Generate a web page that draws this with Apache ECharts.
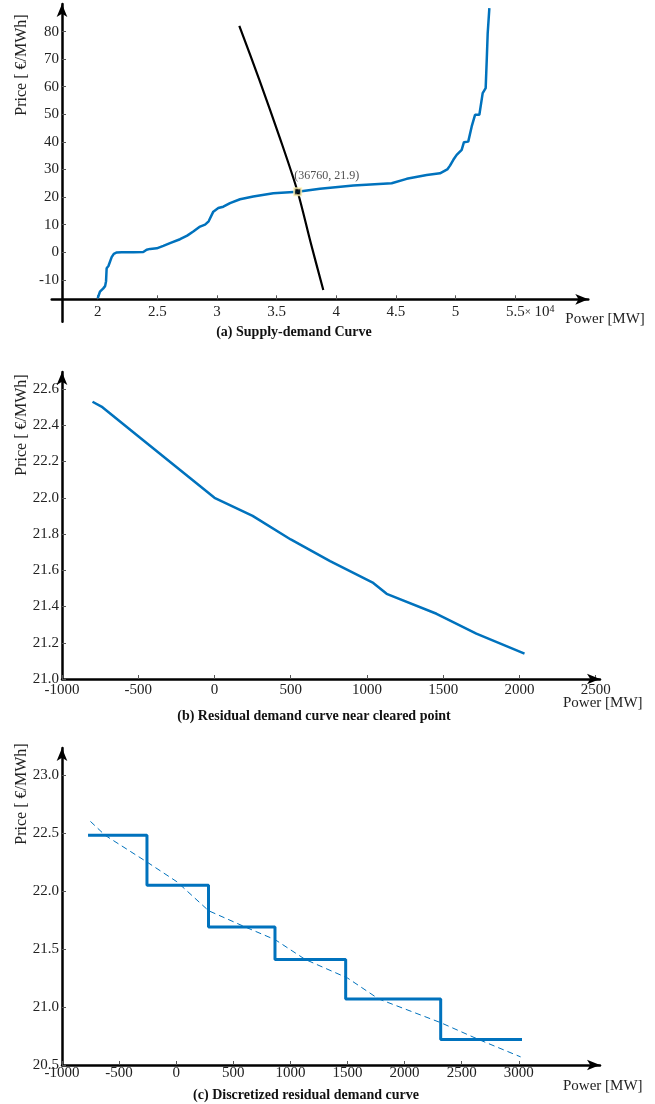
<!DOCTYPE html>
<html><head><meta charset="utf-8">
<script src="https://cdn.jsdelivr.net/npm/echarts@6/dist/echarts.min.js"></script>
<style>html,body{margin:0;padding:0;background:#fff}#c{width:655px;height:1104px}</style>
</head><body><div id="c"></div>
<script>
// ---------- data ----------
// (a) supply curve
const supplyMW = [20000,20190,20450,20620,20700,20750,20900,21050,21170,21350,21600,22000,23000,23820,24100,24400,24950,25500,26060,26900,27500,28010,28580,29000,29300,29690,30110,30530,31090,31930,33040,34720,36760,38630,41430,44640,45900,47580,48690,49300,49530,49810,50090,50510,50700,51060,51350,51630,51990,52270,52520,52610,52690,52830];
const supplyPrice = [-16.7,-14.3,-13.2,-12.3,-10.5,-5.8,-5.0,-4.6,-1.8,-0.6,-0.1,0,0,0.1,0.9,1.2,1.4,2.3,3.3,4.7,6.0,7.5,9.3,10.0,11.2,14.7,16.0,16.5,17.8,19.2,20.2,21.4,21.9,23.0,24.2,25.0,26.6,28.0,28.6,30.0,31.4,33.5,35.3,37.1,39.9,40.1,45.6,49.8,49.8,57.7,59.5,69.7,79.4,88.5];
// (a) demand curve
const demandMW = [31870,33550,35280,36760,37850,38910];
const demandPrice = [82.1,62.5,41.3,21.9,3.5,-13.7];
const clearedPoint = [36760, 21.9];
// (b) residual demand near cleared point
const resMW = [-800,-735,-500,-250,0,250,500,758,1041,1129,1456,1717,2033];
const resPrice = [22.53,22.50,22.34,22.17,22.00,21.90,21.77,21.65,21.53,21.47,21.36,21.25,21.14];
// (c) discretized residual demand
const stepEdgesMW = [-772,-256,283,865,1484,2316,3028];
const stepPrice = [22.48,22.05,21.69,21.41,21.07,20.72];
const fitMW = [-751,-622,-256,6,284,604,867,1130,1500,1772,2316,2648,3016];
const fitPrice = [22.60,22.48,22.25,22.08,21.83,21.69,21.58,21.41,21.25,21.07,20.865,20.72,20.57];
// tick labels
const ticksAx = [20000,25000,30000,35000,40000,45000,50000,55000];
const ticksAy = [-10,0,10,20,30,40,50,60,70,80];
const ticksBx = [-1000,-500,0,500,1000,1500,2000,2500];
const ticksBy = [21.0,21.2,21.4,21.6,21.8,22.0,22.2,22.4,22.6];
const ticksCx = [-1000,-500,0,500,1000,1500,2000,2500,3000];
const ticksCy = [20.5,21.0,21.5,22.0,22.5,23.0];

// ---------- chart ----------
const FONT = '"Liberation Serif", "Times New Roman", serif';
const BLUE = '#0072BD';
const zip = (xs, ys) => xs.map((x, i) => [x, ys[i]]);
const stepData = stepEdgesMW.map((x, i) => [x, stepPrice[Math.min(i, stepPrice.length - 1)]]);

function xAxis(gi, min, max, ticks, fmt, extra) {
  return Object.assign({
    type: 'value', gridIndex: gi, min: min, max: max,
    splitLine: { show: false },
    nameMoveOverlap: false,
    axisLine: { show: true, onZero: false, symbol: ['none', 'arrow'], symbolSize: [8, 13], lineStyle: { color: '#000', width: 2.5 } },
    axisTick: { show: true, inside: true, length: 4, customValues: ticks, lineStyle: { color: '#555', width: 1 } },
    axisLabel: { customValues: ticks, formatter: fmt, fontFamily: FONT, fontSize: 15, color: '#222', margin: 4 },
    nameTextStyle: { fontFamily: FONT, fontSize: 15, color: '#222', align: 'left', verticalAlign: 'top' }
  }, extra || {});
}
function yAxis(gi, min, max, ticks, fmt, extra) {
  return Object.assign({
    type: 'value', gridIndex: gi, min: min, max: max,
    splitLine: { show: false },
    axisLine: { show: true, onZero: false, symbol: ['none', 'arrow'], symbolSize: [8, 13], lineStyle: { color: '#000', width: 2.5 } },
    axisTick: { show: true, inside: true, length: 4, customValues: ticks, lineStyle: { color: '#555', width: 1 } },
    axisLabel: { customValues: ticks, formatter: fmt, fontFamily: FONT, fontSize: 15, color: '#222', margin: 3 }
  }, extra || {});
}
const nameStyle = (padTop) => ({ fontFamily: FONT, fontSize: 15, color: '#222', align: 'left', verticalAlign: 'top', padding: [padTop, 0, 0, 0], overflow: 'none', width: 120 });

const chart = echarts.init(document.getElementById('c'), null, { renderer: 'canvas' });
const option = {
  animation: false,
  backgroundColor: '#fff',
  textStyle: { fontFamily: FONT },
  grid: [
    { left: 51.7, top: 4, width: 536.6, height: 317.7, outerBoundsMode: 'none', containLabel: false },
    { left: 62, top: 372, width: 538, height: 307, outerBoundsMode: 'none', containLabel: false },
    { left: 62, top: 748, width: 538, height: 317, outerBoundsMode: 'none', containLabel: false }
  ],
  xAxis: [
    xAxis(0, 16144, 61123, ticksAx, null, {
      offset: -22.4, name: 'Power [MW]', nameLocation: 'end', nameGap: -23,
      nameTextStyle: nameStyle(12),
      axisLabel: {
        customValues: ticksAx, fontFamily: FONT, fontSize: 15, color: '#222', margin: 5,
        formatter: v => v === 55000 ? '{pad|}5.5{x|×}{n| 10}{s|4}' : String(v / 10000),
        rich: {
          pad: { width: 30 },
          x: { fontFamily: FONT, fontSize: 11, color: '#222' },
          n: { fontFamily: FONT, fontSize: 15, color: '#222' },
          s: { fontFamily: FONT, fontSize: 10, color: '#222', verticalAlign: 'top', padding: [0, 0, 6, 0] }
        }
      }
    }),
    xAxis(1, -1000, 2528, ticksBx, v => String(v), {
      name: 'Power [MW]', nameLocation: 'end', nameGap: -37,
      nameTextStyle: nameStyle(17)
    }),
    xAxis(2, -1000, 3711, ticksCx, v => String(v), {
      name: 'Power [MW]', nameLocation: 'end', nameGap: -37,
      nameTextStyle: nameStyle(14),
      axisLabel: { customValues: ticksCx, formatter: v => String(v), fontFamily: FONT, fontSize: 15, color: '#222', margin: 1 }
    })
  ],
  yAxis: [
    yAxis(0, -25.2, 90.0, ticksAy, v => String(v), { offset: -10.3 }),
    yAxis(1, 21.0, 22.694, ticksBy, v => v.toFixed(1), {}),
    yAxis(2, 20.5, 23.233, ticksCy, v => v.toFixed(1), {})
  ],
  series: [
    { type: 'line', xAxisIndex: 0, yAxisIndex: 0, data: zip(supplyMW, supplyPrice), showSymbol: false, lineStyle: { color: BLUE, width: 2.5 }, z: 3 },
    { type: 'line', xAxisIndex: 0, yAxisIndex: 0, data: zip(demandMW, demandPrice), showSymbol: false, smooth: 0.3, lineStyle: { color: '#000', width: 2.2 }, z: 2 },
    { type: 'scatter', xAxisIndex: 0, yAxisIndex: 0, data: [clearedPoint], symbol: 'rect', symbolSize: 7,
      itemStyle: { color: '#000', borderColor: '#fff3b0', borderWidth: 2 }, z: 5,
      label: { show: true, position: [1, -17], formatter: p => '(' + p.value[0] + ', ' + p.value[1] + ')', fontFamily: FONT, fontSize: 12, color: '#222' } },
    { type: 'line', xAxisIndex: 1, yAxisIndex: 1, data: zip(resMW, resPrice), showSymbol: false, lineStyle: { color: BLUE, width: 2.5 } },
    { type: 'line', xAxisIndex: 2, yAxisIndex: 2, data: stepData, step: 'end', showSymbol: false, lineStyle: { color: BLUE, width: 3 } },
    { type: 'line', xAxisIndex: 2, yAxisIndex: 2, data: zip(fitMW, fitPrice), showSymbol: false, lineStyle: { color: BLUE, width: 1, type: [6, 4] } }
  ],
  graphic: [
    { type: 'text', x: 22, y: 65, rotation: Math.PI / 2, style: { text: 'Price [ €/MWh]', font: '16px ' + FONT, fill: '#222', align: 'center', verticalAlign: 'middle' } },
    { type: 'text', x: 22, y: 425, rotation: Math.PI / 2, style: { text: 'Price [ €/MWh]', font: '16px ' + FONT, fill: '#222', align: 'center', verticalAlign: 'middle' } },
    { type: 'text', x: 22, y: 794, rotation: Math.PI / 2, style: { text: 'Price [ €/MWh]', font: '16px ' + FONT, fill: '#222', align: 'center', verticalAlign: 'middle' } },
    { type: 'text', x: 294, y: 332, style: { text: '(a) Supply-demand Curve', font: 'bold 14px ' + FONT, fill: '#111', align: 'center', verticalAlign: 'middle' } },
    { type: 'text', x: 314, y: 716, style: { text: '(b) Residual demand curve near cleared point', font: 'bold 14px ' + FONT, fill: '#111', align: 'center', verticalAlign: 'middle' } },
    { type: 'text', x: 306, y: 1095, style: { text: '(c) Discretized residual demand curve', font: 'bold 14px ' + FONT, fill: '#111', align: 'center', verticalAlign: 'middle' } }
  ]
};
chart.setOption(option);
</script></body></html>
